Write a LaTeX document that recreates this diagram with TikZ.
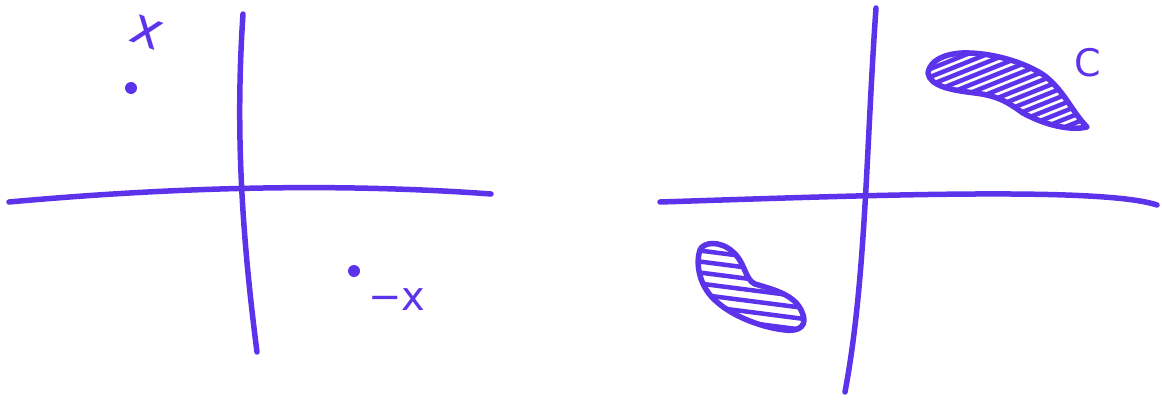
\documentclass[tikz,border=0pt]{standalone}
\usepackage{fontspec}
\setmainfont{DejaVu Sans}
\definecolor{ink}{RGB}{92,51,235}
\begin{document}
\begin{tikzpicture}[x=1pt,y=-1pt,
  stroke/.style={draw=ink,line width=5.5pt,line cap=round,line join=round},
  hatch/.style={draw=ink,line width=4.5pt,line cap=round},
  pt/.style={circle,fill=ink,inner sep=0pt,minimum size=12pt},
  lbl/.style={text=ink,font=\fontsize{40}{40}\selectfont,inner sep=0pt}]
\useasboundingbox (0,0) rectangle (1162,401);
% left axes
\coordinate (lh1) at (9,202);
\coordinate (lh2) at (491,194);
\coordinate (lv1) at (243,14);
\coordinate (lv2) at (257,352);
\draw[stroke] (lh1) .. controls (120,192) and (300,180) .. (lh2);
\draw[stroke] (lv1) .. controls (236,120) and (240,220) .. (lv2);
\node[pt] (p1) at (131,88) {};
\node[pt] (p2) at (354,271) {};
\node[lbl,font=\fontsize{52}{52}\selectfont,rotate=-20] (lx) at (147,32) {x};
\node[lbl,anchor=west] (lmx) at (368,300) {−x};
% right axes
\coordinate (rh1) at (660,202);
\coordinate (rh2) at (1157,205);
\coordinate (rv1) at (876,8);
\coordinate (rv2) at (845,392);
\draw[stroke] (rh1) .. controls (850,196) and (1100,186) .. (rh2);
\draw[stroke] (rv1) .. controls (866,150) and (866,280) .. (rv2);
% top blob
\def\topblob{(928,73) .. controls (930,60) and (945,54) .. (962,53)
  .. controls (990,52) and (1025,62) .. (1045,76)
  .. controls (1065,92) and (1072,112) .. (1087,127)
  .. controls (1070,131) and (1045,125) .. (1023,113)
  .. controls (1010,104) and (1000,96) .. (975,93)
  .. controls (950,90) and (930,86) .. cycle}
\begin{scope}
\clip \topblob;
\foreach \s in {700,720,...,1120}
  \draw[hatch] (\s,145) -- ++(250,-100);
\end{scope}
\draw[stroke] \topblob;
\node[lbl,font=\fontsize{38}{38}\selectfont] (lc) at (1088,63) {C};
% bottom blob
\def\botblob{(700,250) .. controls (703,242) and (720,240) .. (733,252)
  .. controls (745,262) and (745,280) .. (755,284)
  .. controls (775,290) and (795,295) .. (802,312)
  .. controls (808,325) and (800,332) .. (785,330)
  .. controls (765,328) and (735,318) .. (717,302)
  .. controls (700,288) and (695,265) .. cycle}
\begin{scope}
\clip \botblob;
\foreach \s in {226,237,...,340}
  \draw[hatch] (680,\s) -- ++(140,18);
\end{scope}
\draw[stroke] \botblob;
\end{tikzpicture}
\end{document}
